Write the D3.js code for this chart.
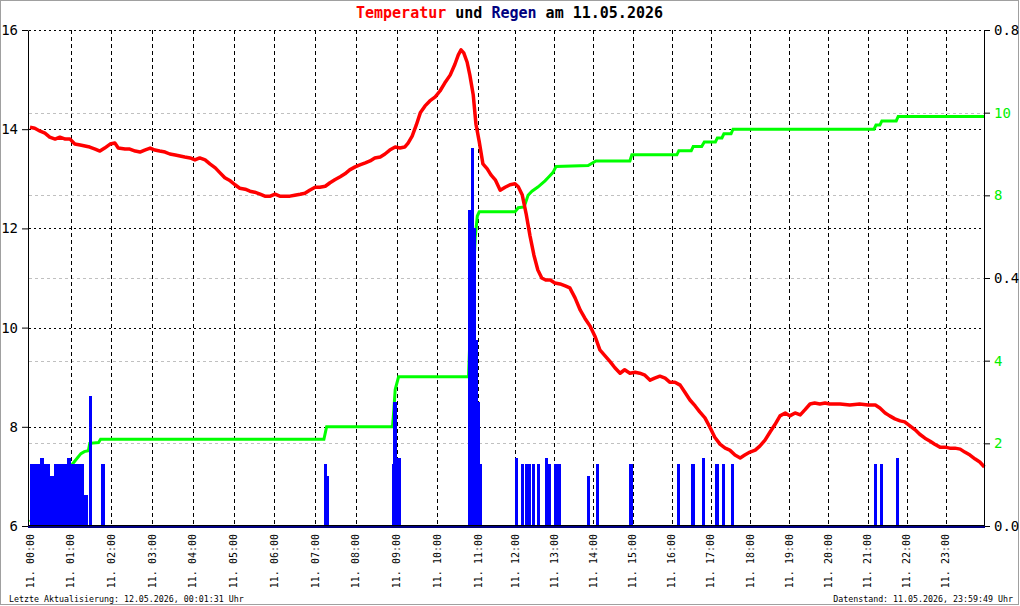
<!DOCTYPE html>
<html>
<head>
<meta charset="utf-8">
<script src="https://cdn.jsdelivr.net/npm/d3@7"></script>
<style>
  body { margin: 0; background: #fff; }
  svg { display: block; }
</style>
</head>
<body>
<script>
// temperature in degrees C
var tempData = [
  ["00:00",14.04],["00:07",14.02],["00:15",13.96],["00:22",13.92],["00:29",13.84],["00:37",13.80],["00:44",13.84],
  ["00:52",13.80],["00:59",13.80],["01:06",13.70],["01:14",13.68],["01:21",13.66],["01:28",13.64],["01:36",13.60],
  ["01:43",13.56],["01:50",13.62],["01:58",13.70],["02:05",13.72],["02:10",13.62],["02:20",13.60],["02:27",13.60],
  ["02:35",13.56],["02:42",13.54],["02:49",13.58],["02:57",13.62],["03:04",13.58],["03:11",13.56],["03:19",13.54],
  ["03:26",13.50],["03:34",13.48],["03:41",13.46],["03:48",13.44],["03:56",13.42],["04:03",13.38],["04:10",13.42],
  ["04:18",13.38],["04:25",13.30],["04:33",13.22],["04:40",13.12],["04:47",13.02],["04:55",12.96],["05:02",12.88],
  ["05:09",12.81],["05:17",12.79],["05:24",12.75],["05:31",12.73],["05:39",12.69],["05:46",12.65],["05:54",12.65],
  ["06:01",12.69],["06:08",12.65],["06:16",12.65],["06:23",12.65],["06:30",12.67],["06:38",12.69],["06:45",12.71],
  ["06:52",12.77],["07:00",12.83],["07:07",12.83],["07:15",12.85],["07:22",12.92],["07:29",12.98],["07:37",13.04],
  ["07:44",13.10],["07:51",13.18],["07:59",13.24],["08:06",13.28],["08:14",13.32],["08:21",13.36],["08:28",13.42],
  ["08:36",13.44],["08:43",13.50],["08:50",13.58],["08:58",13.64],["09:05",13.62],["09:12",13.64],["09:17",13.72],
  ["09:23",13.86],["09:29",14.08],["09:35",14.33],["09:42",14.47],["09:49",14.57],["09:57",14.65],["10:04",14.77],
  ["10:11",14.93],["10:19",15.09],["10:26",15.31],["10:31",15.50],["10:35",15.60],["10:39",15.54],["10:44",15.35],
  ["10:48",15.09],["10:53",14.69],["10:57",14.10],["11:02",13.75],["11:08",13.30],["11:15",13.20],["11:21",13.08],
  ["11:28",12.98],["11:36",12.77],["11:44",12.83],["11:52",12.88],["12:00",12.90],["12:05",12.84],["12:11",12.68],
  ["12:17",12.30],["12:23",11.85],["12:29",11.46],["12:35",11.16],["12:41",11.00],["12:47",10.96],["12:54",10.96],
  ["13:01",10.90],["13:09",10.88],["13:17",10.84],["13:24",10.80],["13:32",10.60],["13:40",10.35],["13:47",10.19],
  ["13:55",10.03],["14:03",9.81],["14:10",9.55],["14:18",9.43],["14:26",9.31],["14:33",9.19],["14:41",9.08],
  ["14:48",9.15],["14:56",9.08],["15:04",9.10],["15:11",9.08],["15:19",9.04],["15:27",8.94],["15:34",8.98],
  ["15:42",9.02],["15:50",8.98],["15:57",8.90],["16:05",8.90],["16:13",8.84],["16:20",8.70],["16:28",8.54],
  ["16:36",8.42],["16:43",8.30],["16:51",8.18],["16:59",7.98],["17:06",7.79],["17:14",7.65],["17:22",7.57],
  ["17:29",7.53],["17:37",7.43],["17:45",7.37],["17:52",7.43],["18:00",7.49],["18:08",7.53],["18:15",7.61],
  ["18:23",7.73],["18:31",7.90],["18:38",8.04],["18:46",8.22],["18:54",8.28],["19:01",8.22],["19:09",8.28],
  ["19:17",8.24],["19:24",8.34],["19:32",8.46],["19:39",8.48],["19:47",8.46],["19:55",8.48],["20:02",8.46],
  ["20:18",8.46],["20:33",8.44],["20:48",8.46],["21:01",8.44],["21:12",8.44],["21:19",8.38],["21:27",8.28],
  ["21:34",8.22],["21:42",8.16],["21:50",8.12],["21:57",8.10],["22:05",8.02],["22:13",7.94],["22:20",7.85],
  ["22:28",7.77],["22:36",7.71],["22:43",7.65],["22:51",7.59],["22:59",7.59],["23:06",7.57],["23:14",7.57],
  ["23:22",7.55],["23:29",7.49],["23:37",7.43],["23:45",7.35],["23:52",7.29],["23:59",7.19]
];

// rain per interval in mm
var rainData = [
  ["00:00",0.1],["00:05",0.1],["00:10",0.1],["00:15",0.11],["00:20",0.1],["00:25",0.1],["00:30",0.08],
  ["00:35",0.1],["00:40",0.1],["00:45",0.1],["00:50",0.1],["00:55",0.11],["01:00",0.1],["01:05",0.1],
  ["01:10",0.1],["01:15",0.1],["01:20",0.05],["01:27",0.21],["01:45",0.1],
  ["07:13",0.1],["07:16",0.08],
  ["08:54",0.1],["08:55",0.2],["08:59",0.11],["09:02",0.11],
  ["10:46",0.51],["10:49",0.61],["10:52",0.48],["10:55",0.3],["10:58",0.2],["11:01",0.1],
  ["12:00",0.11],["12:09",0.1],["12:16",0.1],["12:19",0.1],["12:26",0.1],["12:33",0.1],["12:46",0.11],
  ["12:50",0.1],["12:59",0.1],["13:02",0.1],["13:05",0.1],["13:50",0.08],["14:04",0.1],["14:55",0.1],
  ["16:08",0.1],["16:30",0.1],["16:46",0.11],["17:07",0.1],["17:17",0.1],["17:31",0.1],
  ["21:10",0.1],["21:19",0.1],["21:44",0.11]
];

// rain sum of the day in mm
var sumData = [
  ["00:00",0.1],["00:10",0.3],["00:20",0.5],["00:30",0.75],["00:38",0.94],["00:41",1.0],["00:46",1.0],
  ["00:50",1.15],["00:55",1.3],["01:00",1.45],["01:05",1.55],["01:10",1.65],["01:15",1.75],["01:20",1.8],
  ["01:26",1.82],["01:28",2.0],["01:41",2.02],["01:44",2.1],["07:13",2.1],["07:17",2.4],["08:54",2.4],
  ["08:56",2.8],["08:58",3.3],["09:03",3.61],["10:46",3.61],["10:48",4.5],["10:51",5.5],["10:54",6.3],
  ["10:56",7.0],["10:59",7.5],["11:02",7.6],["12:00",7.6],["12:05",7.7],["12:14",7.72],["12:20",8.0],
  ["12:26",8.1],["12:35",8.2],["12:46",8.35],["12:52",8.45],["12:58",8.55],["13:03",8.7],["13:52",8.72],
  ["14:04",8.83],["14:56",8.83],["14:59",8.98],["16:08",8.98],["16:11",9.08],["16:30",9.08],["16:33",9.18],
  ["16:46",9.18],["16:50",9.29],["17:07",9.29],["17:10",9.39],["17:17",9.39],["17:20",9.49],["17:31",9.49],
  ["17:34",9.6],["21:10",9.6],["21:13",9.7],["21:19",9.7],["21:22",9.8],["21:44",9.8],["21:47",9.91],
  ["23:59",9.91]
];

var hourTicks = [0,1,2,3,4,5,6,7,8,9,10,11,12,13,14,15,16,17,18,19,20,21,22,23];
var tempTicks = [6,8,10,12,14,16];
var rainTicks = [0,0.4,0.8];
var sumTicks = [2,4,8,10];
var sumGrid = [2,4,6,8,10];
var dayLabel = "11.";
var titleParts = [["Temperatur","#ff0000"],[" und ","#000"],["Regen","#000080"],[" am 11.05.2026","#000"]];
var footLeft = "Letzte Aktualisierung: 12.05.2026, 00:01:31 Uhr";
var footRight = "Datenstand: 11.05.2026, 23:59:49 Uhr";

var width = 1020;
var height = 606;
var margin = {left: 29, right: 35, top: 30, bottom: 80};
var mono = "'DejaVu Sans Mono', 'Liberation Mono', monospace";

function hours(s) {
  var p = s.split(":");
  return +p[0] + p[1] / 60;
}

var timeScale = d3.scaleLinear().domain([0, 11, 12, 24]).range([30, 478, 515, 985]);
var tempScale = d3.scaleLinear().domain([6, 16]).range([height - margin.bottom, margin.top]);
var rainScale = d3.scaleLinear().domain([0, 0.8]).range([height - margin.bottom, margin.top]);
var sumScale = d3.scaleLinear().domain([0, 12]).range([height - margin.bottom, margin.top]);

var x0 = margin.left, x1 = width - margin.right;
var yBottom = height - margin.bottom;

var svg = d3.select('body').append('svg')
  .attr('width', width)
  .attr('height', height);

svg.append('rect')
  .attr('x', 0.5).attr('y', 0.5)
  .attr('width', width - 2).attr('height', height - 2)
  .attr('fill', '#fff')
  .attr('stroke', '#a0a0a0');

// grey grid of the rain sum
svg.append('g').selectAll('line')
  .data(sumGrid)
  .enter().append('line')
  .attr('x1', x0).attr('x2', x1)
  .attr('y1', function(d) { return Math.round(sumScale(d)) + 0.5; })
  .attr('y2', function(d) { return Math.round(sumScale(d)) + 0.5; })
  .attr('stroke', '#c0c0c0')
  .attr('stroke-dasharray', '3,3');

// black dotted grid of the temperature
svg.append('g').selectAll('line')
  .data(tempTicks.slice(1))
  .enter().append('line')
  .attr('x1', x0).attr('x2', x1)
  .attr('y1', function(d) { return Math.round(tempScale(d)) + 0.5; })
  .attr('y2', function(d) { return Math.round(tempScale(d)) + 0.5; })
  .attr('stroke', '#000')
  .attr('stroke-dasharray', '2,3');

// hours
svg.append('g').selectAll('line')
  .data(hourTicks.slice(1))
  .enter().append('line')
  .attr('x1', function(d) { return Math.round(timeScale(d)) + 0.5; })
  .attr('x2', function(d) { return Math.round(timeScale(d)) + 0.5; })
  .attr('y1', margin.top).attr('y2', yBottom)
  .attr('stroke', '#000')
  .attr('stroke-dasharray', '4,3');

// rain sum goes under the bars
var sumLine = d3.line()
  .x(function(d) { return timeScale(hours(d[0])); })
  .y(function(d) { return sumScale(d[1]); });

svg.append('path')
  .datum(sumData)
  .attr('d', sumLine)
  .attr('fill', 'none')
  .attr('stroke', '#00ff00')
  .attr('stroke-width', 3);

// rain bars
svg.append('g').selectAll('rect')
  .data(rainData)
  .enter().append('rect')
  .attr('x', function(d) { return timeScale(hours(d[0])); })
  .attr('width', function(d) { return timeScale(hours(d[0]) + 5 / 60) - timeScale(hours(d[0])); })
  .attr('y', function(d) { return rainScale(d[1]); })
  .attr('height', function(d) { return yBottom - rainScale(d[1]); })
  .attr('fill', '#0000ff')
  .attr('shape-rendering', 'crispEdges');

var tempLine = d3.line()
  .x(function(d) { return timeScale(hours(d[0])); })
  .y(function(d) { return tempScale(d[1]); });

svg.append('path')
  .datum(tempData)
  .attr('d', tempLine)
  .attr('fill', 'none')
  .attr('stroke', '#ff0000')
  .attr('stroke-width', 3.5)
  .attr('stroke-linejoin', 'round');

// axes
var axisLeft = d3.axisLeft(tempScale).tickValues(tempTicks).tickSize(6).tickSizeOuter(0).tickPadding(4);
var gl = svg.append('g')
  .attr('transform', 'translate(' + (x0 - 1) + ',0)')
  .call(axisLeft);
gl.selectAll('text').style('font-family', mono).style('font-size', '14px');

var axisRain = d3.axisRight(rainScale).tickValues(rainTicks).tickSize(6).tickSizeOuter(0).tickPadding(4)
  .tickFormat(d3.format('.1f'));
var gr = svg.append('g')
  .attr('transform', 'translate(' + (x1 - 1) + ',0)')
  .call(axisRain);
gr.selectAll('text').style('font-family', mono).style('font-size', '14px');

var axisSum = d3.axisRight(sumScale).tickValues(sumTicks).tickSize(6).tickSizeOuter(0).tickPadding(4);
var gs = svg.append('g')
  .attr('transform', 'translate(' + (x1 - 1) + ',0)')
  .call(axisSum);
gs.select('.domain').remove();
gs.selectAll('text').style('font-family', mono).style('font-size', '14px').attr('fill', '#00f000');

// bottom line
svg.append('line')
  .attr('x1', x0 - 1).attr('x2', x1)
  .attr('y1', yBottom - 0.5).attr('y2', yBottom - 0.5)
  .attr('stroke', '#000');
svg.append('line')
  .attr('x1', x0 - 1).attr('x2', x1)
  .attr('y1', yBottom + 1).attr('y2', yBottom + 1)
  .attr('stroke', '#000080')
  .attr('stroke-width', 2);

// rotated time labels
svg.append('g').selectAll('text')
  .data(hourTicks)
  .enter().append('text')
  .attr('transform', function(d) { return 'translate(' + timeScale(d) + ',' + (yBottom + 8) + ') rotate(-90)'; })
  .attr('text-anchor', 'end')
  .attr('dy', '0.35em')
  .style('font-family', mono)
  .style('font-size', '10px')
  .text(function(d) { return dayLabel + ' ' + (d < 10 ? '0' : '') + d + ':00'; });

// title
var title = svg.append('text')
  .attr('x', 509.5).attr('y', 18)
  .attr('text-anchor', 'middle')
  .style('font-family', mono)
  .style('font-size', '15px')
  .style('font-weight', 'bold')
  .style('white-space', 'pre')
  .attr('xml:space', 'preserve');
title.selectAll('tspan')
  .data(titleParts)
  .enter().append('tspan')
  .attr('fill', function(d) { return d[1]; })
  .text(function(d) { return d[0]; });

svg.append('text')
  .attr('x', 9).attr('y', 602)
  .style('font-family', mono)
  .style('font-size', '8.3px')
  .text(footLeft);

svg.append('text')
  .attr('x', 1013).attr('y', 602)
  .attr('text-anchor', 'end')
  .style('font-family', mono)
  .style('font-size', '8.3px')
  .text(footRight);
</script>
</body>
</html>
